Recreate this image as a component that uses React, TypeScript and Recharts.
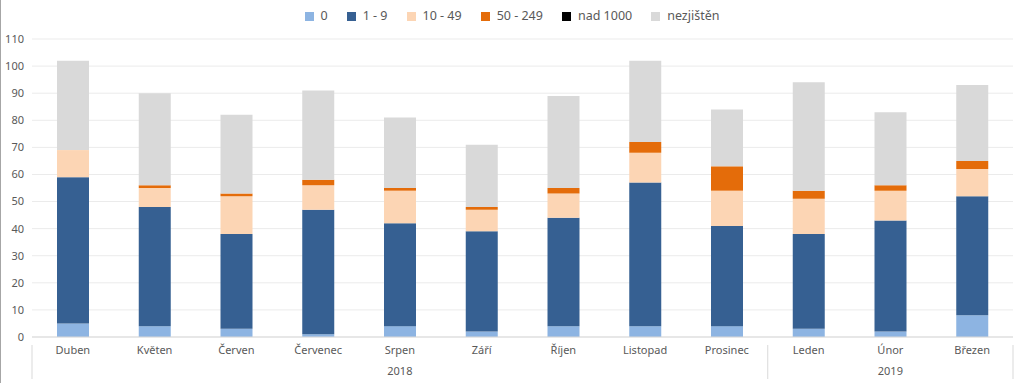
import { BarChart, Bar, XAxis, YAxis, CartesianGrid, Legend } from 'recharts';

const months = ['Duben', 'Květen', 'Červen', 'Červenec', 'Srpen', 'Září', 'Říjen', 'Listopad', 'Prosinec', 'Leden', 'Únor', 'Březen'];
const years = ['2018', '2018', '2018', '2018', '2018', '2018', '2018', '2018', '2018', '2019', '2019', '2019'];

const s0 = [5, 4, 3, 1, 4, 2, 4, 4, 4, 3, 2, 8];
const s1to9 = [54, 44, 35, 46, 38, 37, 40, 53, 37, 35, 41, 44];
const s10to49 = [10, 7, 14, 9, 12, 8, 9, 11, 13, 13, 11, 10];
const s50to249 = [0, 1, 1, 2, 1, 1, 2, 4, 9, 3, 2, 3];
const sNad1000 = [0, 0, 0, 0, 0, 0, 0, 0, 0, 0, 0, 0];
const sUnknown = [33, 34, 29, 33, 26, 23, 34, 30, 21, 40, 27, 28];

const yTicks = [0, 10, 20, 30, 40, 50, 60, 70, 80, 90, 100, 110];

const series = [
  { key: '0', values: s0, color: '#8db4e2' },
  { key: '1 - 9', values: s1to9, color: '#366092' },
  { key: '10 - 49', values: s10to49, color: '#fcd5b4' },
  { key: '50 - 249', values: s50to249, color: '#e46c0a' },
  { key: 'nad 1000', values: sNad1000, color: '#000000' },
  { key: 'nezjištěn', values: sUnknown, color: '#d9d9d9' },
];

const data = months.map((m, i) => {
  const row: Record<string, string | number> = { month: m, year: years[i] };
  series.forEach((s) => {
    row[s.key] = s.values[i];
  });
  return row;
});

const W = 1024;
const H = 383;
const LEFT = 32;
const RIGHT = 11;
const BAND = (W - LEFT - RIGHT) / months.length;
const FONT = '"Noto Sans", sans-serif';
const TEXT = '#595959';
const LINE = '#d9d9d9';

function MonthTick(props: any) {
  const { x, y, payload } = props;
  return (
    <text x={x} y={y + 9} textAnchor="middle" fontSize={11} fill={TEXT} fontFamily={FONT}>
      {payload.value}
    </text>
  );
}

function YearTick(props: any) {
  const { x, y, index } = props;
  const yr = years[index];
  const last = index === years.length - 1 || years[index + 1] !== yr;
  const groupIdx = years.map((v, i) => (v === yr ? i : -1)).filter((i) => i >= 0);
  const mid = (groupIdx[0] + groupIdx[groupIdx.length - 1]) / 2;
  const top = y - 28;
  return (
    <g>
      {index === 0 && <line x1={x - BAND / 2} x2={x - BAND / 2} y1={top} y2={H - 4} stroke={LINE} />}
      {last && <line x1={x + BAND / 2} x2={x + BAND / 2} y1={top} y2={H - 4} stroke={LINE} />}
      {index === mid && (
        <text x={x} y={y + 2} textAnchor="middle" fontSize={11} fill={TEXT} fontFamily={FONT}>
          {yr}
        </text>
      )}
      {Math.abs(index - mid) === 0.5 && index < mid && (
        <text x={x + BAND / 2} y={y + 2} textAnchor="middle" fontSize={11} fill={TEXT} fontFamily={FONT}>
          {yr}
        </text>
      )}
    </g>
  );
}

export default function App() {
  return (
    <div
      style={{
        position: 'absolute',
        left: 0,
        top: 0,
        width: W,
        height: H,
        background: '#fff',
        borderLeft: '1px solid #a6a6a6',
        boxSizing: 'border-box',
      }}
    >
      <BarChart
        width={W - 1}
        height={H}
        data={data}
        margin={{ top: 8, right: RIGHT, bottom: 0, left: -1 }}
        barSize={32}
      >
        <CartesianGrid vertical={false} stroke="#ebebeb" />
        <Legend
          verticalAlign="top"
          align="center"
          iconType="square"
          iconSize={9}
          height={31}
          wrapperStyle={{ fontFamily: FONT, fontSize: 12.5, color: TEXT, top: 7, left: 14 }}
          formatter={(v: string) => <span style={{ color: TEXT, marginLeft: 3, marginRight: 9 }}>{v}</span>}
        />
        <XAxis
          dataKey="month"
          interval={0}
          tickLine={false}
          axisLine={{ stroke: LINE }}
          height={28}
          tick={<MonthTick />}
        />
        <XAxis
          xAxisId="year"
          dataKey="month"
          interval={0}
          tickLine={false}
          axisLine={false}
          height={18}
          tick={<YearTick />}
        />
        <YAxis
          width={LEFT}
          domain={[0, 110]}
          ticks={yTicks}
          interval={0}
          tickLine={false}
          axisLine={false}
          tick={{ fontSize: 11, fill: TEXT, fontFamily: FONT }}
        />
        {series.map((s) => (
          <Bar key={s.key} dataKey={s.key} stackId="a" fill={s.color} isAnimationActive={false} />
        ))}
      </BarChart>
    </div>
  );
}
